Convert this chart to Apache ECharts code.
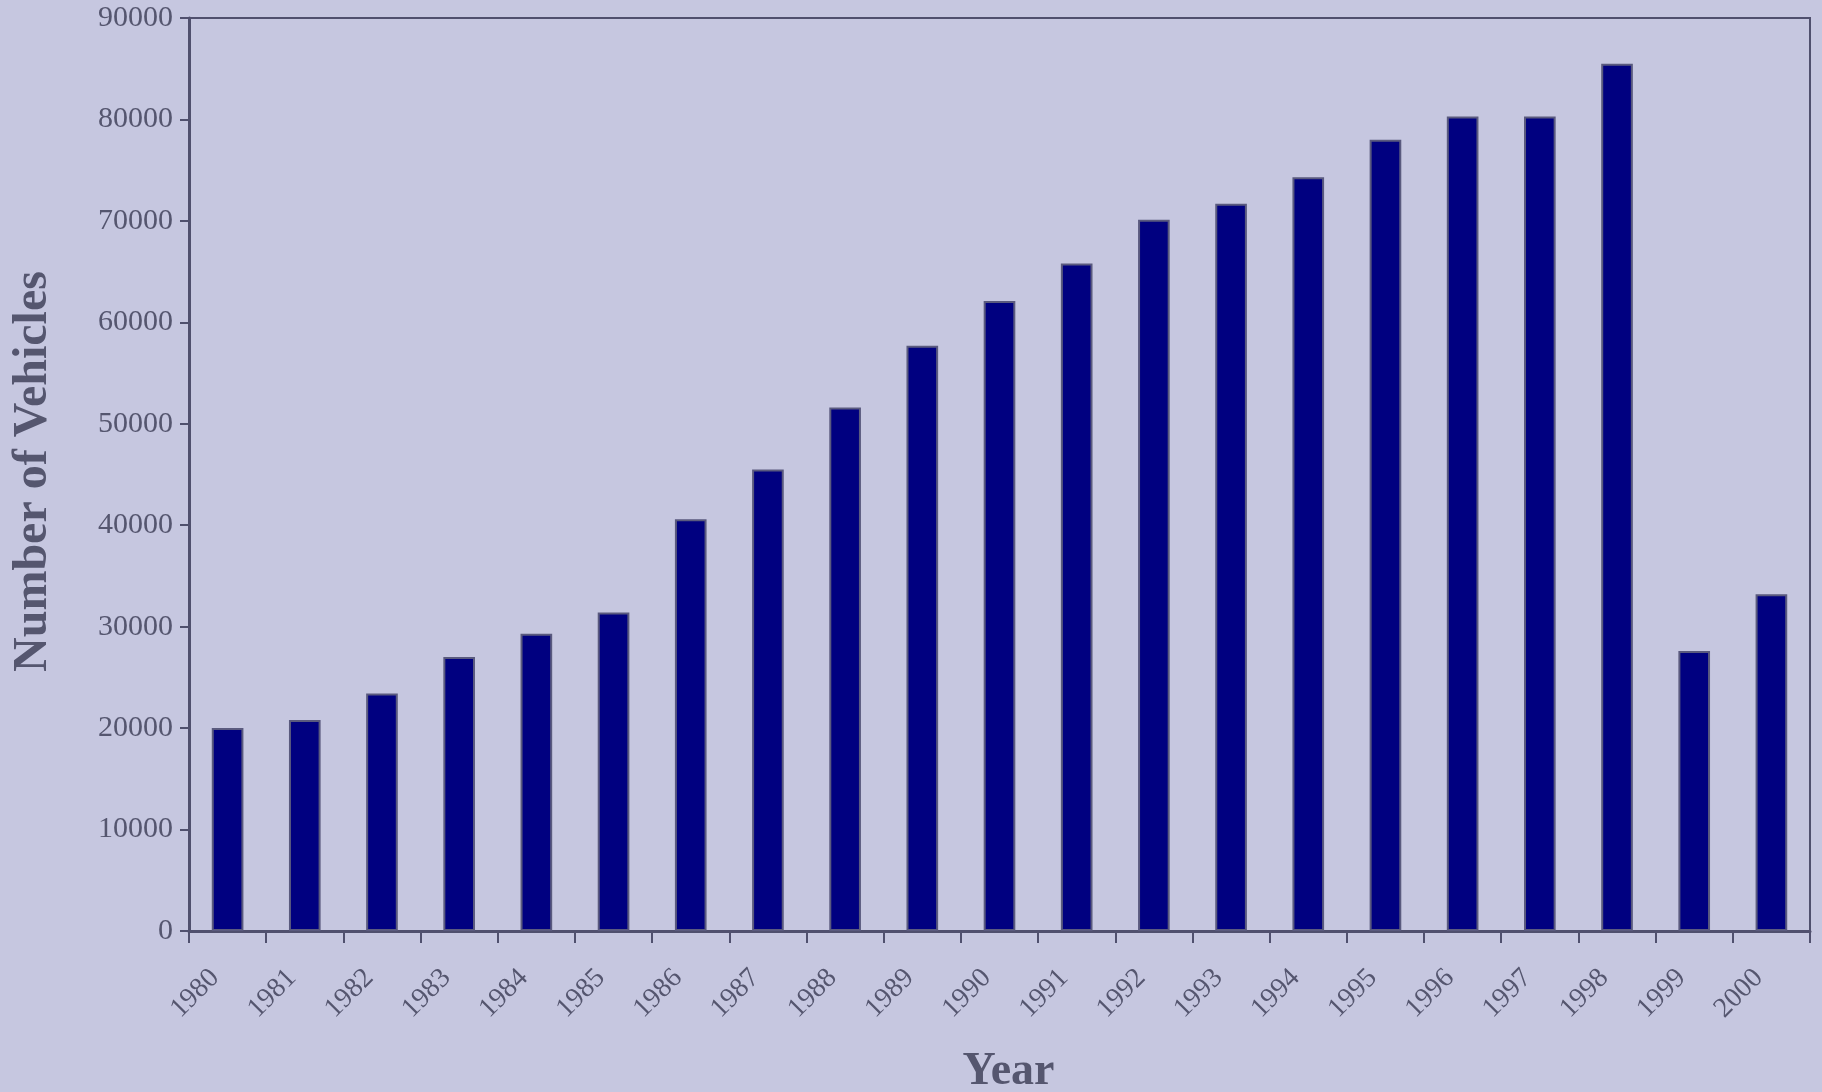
<!DOCTYPE html>
<html>
<head>
<meta charset="utf-8">
<script src="https://cdn.jsdelivr.net/npm/echarts@6/dist/echarts.min.js"></script>
<style>
html,body{margin:0;padding:0;background:#c6c7e0;}
#chart{width:1822px;height:1092px;}
</style>
</head>
<body>
<div id="chart"></div>
<script>
const years = ['1980','1981','1982','1983','1984','1985','1986','1987','1988','1989','1990','1991','1992','1993','1994','1995','1996','1997','1998','1999','2000'];
const vehicles = [20000,20800,23400,27000,29300,31400,40600,45500,51600,57700,62100,65800,70100,71700,74300,78000,80300,80300,85500,27600,33200];
const yTicks = {min:0, max:90000, interval:10000};

const textColor = '#55566f';
const lineColor = '#50506e';
const font = 'Liberation Serif';

const chart = echarts.init(document.getElementById('chart'));
chart.setOption({
  backgroundColor: '#c6c7e0',
  animation: false,
  grid: {left:189, right:12, top:18, bottom:161, outerBoundsMode:'none', containLabel:false, show:true, borderColor:lineColor, borderWidth:2, backgroundColor:'transparent'},
  xAxis: {
    type:'category', data: years, boundaryGap:true,
    name:'Year', nameLocation:'middle', nameGap:118,
    nameTextStyle:{fontFamily:font, fontSize:46, fontWeight:'bold', color:textColor, padding:[0,0,0,18]},
    axisLine:{lineStyle:{color:lineColor, width:3}},
    axisTick:{show:true, alignWithLabel:false, length:12, lineStyle:{color:lineColor, width:2}},
    axisLabel:{rotate:45, margin:30, padding:[0,18,0,0], fontFamily:font, fontSize:28, color:textColor}
  },
  yAxis: {
    type:'value', min:yTicks.min, max:yTicks.max, interval:yTicks.interval,
    name:'Number of Vehicles', nameLocation:'middle', nameGap:131,
    nameTextStyle:{fontFamily:font, fontSize:48, fontWeight:'bold', color:textColor, padding:[0,0,0,6]},
    axisLine:{show:true, lineStyle:{color:lineColor, width:3}},
    axisTick:{show:true, length:9, lineStyle:{color:lineColor, width:2}},
    splitLine:{show:false},
    axisLabel:{margin:16, fontFamily:font, fontSize:30, color:textColor, formatter:(v)=>String(v)}
  },
  series: [{
    type:'bar', data: vehicles, barWidth:'41%',
    itemStyle:{color:'#000080', borderColor:'#5a5a7e', borderWidth:2}
  }]
});
</script>
</body>
</html>
